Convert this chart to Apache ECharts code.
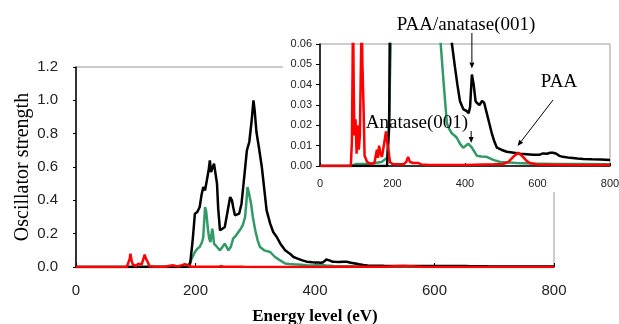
<!DOCTYPE html>
<html>
<head>
<meta charset="utf-8">
<script src="https://cdn.jsdelivr.net/npm/echarts@6/dist/echarts.min.js"></script>
<style>
  html, body { margin: 0; padding: 0; background: #fff; }
  #main { width: 619px; height: 324px; }
</style>
</head>
<body>
<div id="main"></div>
<script>
// energy (eV) / oscillator strength
const blackEv = [0, 185, 191, 195, 199, 203, 207, 210, 213, 216, 219, 222, 224, 226, 228, 231, 233, 236, 238, 241, 245, 249, 253, 258, 261, 263, 266, 269, 273, 277, 281, 286, 290, 294, 297, 299, 302, 306, 311, 315, 319, 325, 330, 336, 342, 350, 358, 364, 372, 379, 386, 395, 405, 410, 414, 419, 424, 429, 433, 440, 447, 453, 460, 467, 474, 481, 488, 500, 515, 535, 552, 570, 588, 605, 615, 626, 635, 643, 652, 660, 670, 690, 710, 726, 750, 775, 800];
const blackVal = [0, 0, 0.02, 0.15, 0.32, 0.33, 0.36, 0.43, 0.48, 0.46, 0.45, 0.58, 0.64, 0.57, 0.57, 0.62, 0.61, 0.50, 0.35, 0.22, 0.23, 0.24, 0.32, 0.42, 0.40, 0.36, 0.31, 0.30, 0.32, 0.38, 0.52, 0.70, 0.75, 0.88, 1.00, 0.94, 0.81, 0.72, 0.60, 0.47, 0.34, 0.26, 0.21, 0.18, 0.14, 0.10, 0.08, 0.06, 0.049, 0.040, 0.032, 0.028, 0.027, 0.026, 0.029, 0.045, 0.040, 0.032, 0.031, 0.030, 0.032, 0.031, 0.026, 0.021, 0.016, 0.012, 0.009, 0.008, 0.007, 0.0065, 0.006, 0.0058, 0.0055, 0.0055, 0.0062, 0.006, 0.0065, 0.0065, 0.006, 0.005, 0.0045, 0.004, 0.0037, 0.0035, 0.0033, 0.0032, 0.003];

const greenEv = [0, 85, 100, 130, 150, 170, 185, 190, 195, 199, 203, 207, 211, 213, 216, 218, 221, 223, 225, 228, 229, 231, 236, 241, 245, 249, 252, 255, 259, 263, 268, 274, 279, 283, 285, 287, 289, 293, 296, 300, 304, 308, 315, 325, 333, 341, 350, 357, 364, 371, 377, 386, 395, 402, 409, 414, 419, 426, 433, 445, 460, 478, 497, 520, 543, 580, 650, 720, 800];
const greenVal = [0, 0, 0.001, 0.001, 0.0015, 0.002, 0.004, 0.02, 0.06, 0.09, 0.11, 0.12, 0.15, 0.18, 0.36, 0.33, 0.22, 0.17, 0.15, 0.23, 0.21, 0.14, 0.12, 0.10, 0.12, 0.14, 0.13, 0.10, 0.12, 0.17, 0.19, 0.22, 0.25, 0.30, 0.38, 0.48, 0.45, 0.38, 0.30, 0.22, 0.16, 0.12, 0.10, 0.09, 0.06, 0.041, 0.021, 0.018, 0.016, 0.015, 0.014, 0.011, 0.009, 0.010, 0.011, 0.0105, 0.009, 0.007, 0.005, 0.0047, 0.0045, 0.003, 0.002, 0.0017, 0.0015, 0.0012, 0.001, 0.001, 0.0008];

const redEv = [0, 85, 88, 90, 91, 93, 95, 98, 101, 104, 107, 110, 112, 115, 117, 120, 123, 130, 140, 150, 157, 160, 163, 167, 171, 176, 182, 185, 188, 193, 200, 230, 238, 243, 248, 257, 270, 280, 300, 400, 480, 505, 520, 533, 547, 560, 570, 579, 600, 700, 800];
const redVal = [0, 0, 0.012, 0.05, 0.08, 0.04, 0.015, 0.023, 0.006, 0.02, 0.008, 0.015, 0.04, 0.075, 0.05, 0.03, 0.005, 0.002, 0.001, 0.0015, 0.008, 0.004, 0.010, 0.006, 0.0045, 0.01, 0.017, 0.012, 0.009, 0.002, 0.001, 0.0008, 0.002, 0.0045, 0.002, 0.0015, 0.0015, 0.0008, 0.0005, 0.0005, 0.0008, 0.001, 0.002, 0.0045, 0.0065, 0.0045, 0.0025, 0.0015, 0.0007, 0.0005, 0.0005];

function pairs(xs, ys) {
  return xs.map((x, i) => [x, ys[i]]);
}

const BLACK = '#000000';
const GREEN = '#339966';
const RED = '#ff0000';

let chart = echarts.init(document.getElementById('main'));

function lineSeries(name, xs, ys, color, idx, z) {
  return {
    name: name,
    type: 'line',
    xAxisIndex: idx,
    yAxisIndex: idx,
    data: pairs(xs, ys),
    symbol: 'none',
    clip: true,
    z: z,
    lineStyle: {color: color, width: 2.5},
    itemStyle: {color: color}
  };
}

chart.setOption({
  animation: false,
  backgroundColor: '#fff',
  grid: [
    {left: 76, top: 67, width: 478, height: 200, show: true, borderColor: '#999', borderWidth: 1, z: 0,
      containLabel: false, outerBoundsMode: 'none'},
    {left: 320, top: 44, width: 290, height: 122, show: true, borderColor: '#999', borderWidth: 1, backgroundColor: '#fff', z: 6,
      containLabel: false, outerBoundsMode: 'none'}
  ],
  xAxis: [
    {
      gridIndex: 0, type: 'value', min: 0, max: 800, interval: 200,
      name: 'Energy level (eV)', nameLocation: 'middle', nameGap: 41, nameMoveOverlap: false,
      nameTextStyle: {fontFamily: 'Liberation Serif', fontSize: 17, fontWeight: 'bold', color: '#000'},
      axisLine: {lineStyle: {color: '#000', width: 1.5}},
      axisTick: {inside: true, length: 4, lineStyle: {color: '#000'}},
      axisLabel: {fontFamily: 'Liberation Sans', fontSize: 15, color: '#222', margin: 16},
      splitLine: {show: false}
    },
    {
      gridIndex: 1, type: 'value', min: 0, max: 800, interval: 200, z: 10,
      axisLine: {lineStyle: {color: '#000', width: 1.5}},
      axisTick: {inside: true, length: 3, lineStyle: {color: '#000'}},
      axisLabel: {fontFamily: 'Liberation Sans', fontSize: 11, color: '#222', margin: 12},
      splitLine: {show: false}
    }
  ],
  yAxis: [
    {
      gridIndex: 0, type: 'value', min: 0, max: 1.2, interval: 0.2,
      name: 'Oscillator strength', nameLocation: 'middle', nameGap: 43, nameRotate: 90, nameMoveOverlap: false,
      nameTextStyle: {fontFamily: 'Liberation Serif', fontSize: 20, color: '#000'},
      axisLine: {show: true, lineStyle: {color: '#000', width: 1.5}},
      axisTick: {show: true, length: 3, lineStyle: {color: '#000'}},
      axisLabel: {fontFamily: 'Liberation Sans', fontSize: 15, color: '#222', margin: 18,
        formatter: v => v.toFixed(1)},
      splitLine: {show: false}
    },
    {
      gridIndex: 1, type: 'value', min: 0, max: 0.06, interval: 0.01, z: 10,
      axisLine: {show: true, lineStyle: {color: '#000', width: 1.5}},
      axisTick: {show: true, length: 4, lineStyle: {color: '#000'}},
      axisLabel: {fontFamily: 'Liberation Sans', fontSize: 11, color: '#222', margin: 8,
        formatter: v => v.toFixed(2)},
      splitLine: {show: false}
    }
  ],
  series: [
    lineSeries('Anatase(001)', greenEv, greenVal, GREEN, 0, 2),
    lineSeries('PAA/anatase(001)', blackEv, blackVal, BLACK, 0, 3),
    lineSeries('PAA', redEv, redVal, RED, 0, 4),
    lineSeries('Anatase(001) inset', greenEv, greenVal, GREEN, 1, 10),
    lineSeries('PAA/anatase(001) inset', blackEv, blackVal, BLACK, 1, 11),
    lineSeries('PAA inset', redEv, redVal, RED, 1, 12)
  ],
  graphic: [
    {id: 'cover', type: 'rect', z: 5, silent: true,
      shape: {x: 283, y: 0, width: 336, height: 192}, style: {fill: '#fff'}}
  ]
});

// annotations: text + arrow pointing at the peaks in the inset
function arrow(id, from, to) {
  const dx = to[0] - from[0], dy = to[1] - from[1];
  const len = Math.sqrt(dx * dx + dy * dy);
  const ux = dx / len, uy = dy / len;
  const hl = 6, hw = 2.5;
  const bx = to[0] - ux * hl, by = to[1] - uy * hl;
  return [
    {id: id + 'l', type: 'line', z: 20, shape: {x1: from[0], y1: from[1], x2: bx, y2: by},
      style: {stroke: '#000', lineWidth: 1}},
    {id: id + 'h', type: 'polygon', z: 20,
      shape: {points: [to, [bx - uy * hw, by + ux * hw], [bx + uy * hw, by - ux * hw]]},
      style: {fill: '#000'}}
  ];
}

const tip1 = chart.convertToPixel({gridIndex: 1}, [419, 0.048]);
const tip2 = chart.convertToPixel({gridIndex: 1}, [417, 0.0113]);
const tip3 = chart.convertToPixel({gridIndex: 1}, [545, 0.0098]);

const textStyle = {fontFamily: 'Liberation Serif', fontSize: 19, fill: '#000'};

chart.setOption({
  graphic: [
    {id: 'cover', type: 'rect', z: 5, silent: true,
      shape: {x: 283, y: 0, width: 336, height: 192}, style: {fill: '#fff'}},
    {id: 't1', type: 'text', z: 20, x: 466, y: 25,
      style: Object.assign({text: 'PAA/anatase(001)', align: 'center', verticalAlign: 'middle'}, textStyle)},
    {id: 't2', type: 'text', z: 20, x: 417, y: 123,
      style: Object.assign({text: 'Anatase(001)', align: 'center', verticalAlign: 'middle'}, textStyle)},
    {id: 't3', type: 'text', z: 20, x: 559, y: 82,
      style: Object.assign({text: 'PAA', align: 'center', verticalAlign: 'middle'}, textStyle)}
  ].concat(
    arrow('a1', [tip1[0], 33], tip1),
    arrow('a2', [tip2[0], 131], tip2),
    arrow('a3', [553, 100], tip3)
  )
});
</script>
</body>
</html>
